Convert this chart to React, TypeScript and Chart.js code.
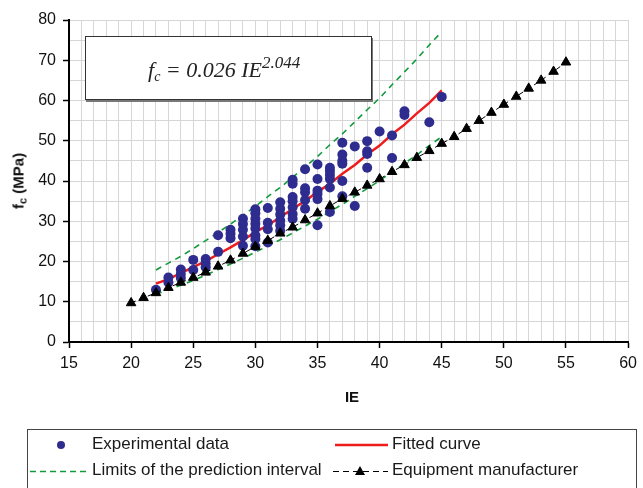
import React, { useEffect, useRef } from "react";
import { Chart, registerables } from "chart.js";
Chart.register(...registerables);

// Experimental data (IE, fc)
const expIE = [
  22,
  23, 23,
  24, 24, 24,
  25, 25,
  26, 26, 26,
  27, 27,
  28, 28, 28,
  29, 29, 29, 29, 29,
  30, 30, 30, 30, 30, 30, 30, 30,
  31, 31, 31, 31,
  32, 32, 32, 32, 32, 32,
  33, 33, 33, 33, 33, 33, 33,
  34, 34, 34, 34, 34,
  35, 35, 35, 35, 35, 35,
  36, 36, 36, 36, 36, 36,
  37, 37, 37, 37, 37, 37,
  38, 38,
  39, 39, 39, 39,
  40,
  41, 41,
  42, 42,
  44,
  45,
];
const expFc = [
  13.0,
  14.8, 16.0,
  18.0, 16.9, 15.9,
  20.4, 17.9,
  20.6, 19.5, 18.6,
  26.5, 22.4,
  27.9, 26.9, 25.8,
  30.6, 29.3, 27.9, 26.2, 23.9,
  33.0, 32.0, 30.6, 29.4, 28.2, 26.5, 25.6, 23.8,
  33.3, 29.6, 28.0, 24.7,
  34.7, 33.1, 31.7, 30.2, 29.0, 27.6,
  40.3, 39.3, 36.0, 35.0, 33.5, 31.8, 30.6,
  42.9, 38.2, 37.2, 35.3, 33.1,
  44.1, 40.5, 37.6, 36.8, 35.5, 29.0,
  43.3, 42.5, 41.5, 40.5, 38.4, 32.3,
  49.5, 46.6, 45.0, 44.3, 40.0, 36.2,
  48.6, 33.8,
  49.9, 47.4, 46.7, 43.3,
  52.3,
  51.3, 45.7,
  57.3, 56.4,
  54.6,
  60.9,
];

// Fitted curve and prediction limits
const fitIE = [22, 23, 24, 25, 26, 27, 28, 29, 30, 31, 32, 33, 34, 35, 36, 37, 38, 39, 40, 41, 42, 43, 44, 45];
const fitFc = [14.5, 15.6, 17.1, 18.6, 20.1, 21.8, 23.5, 25.3, 27.3, 29.0, 31.0, 33.1, 35.0, 37.3, 39.3, 41.8, 44.0, 46.6, 48.8, 51.6, 54.0, 56.8, 59.4, 62.5];
const upperFc = [17.9, 19.6, 21.3, 23.2, 25.2, 27.2, 29.3, 31.5, 33.7, 36.1, 38.4, 40.9, 43.5, 46.1, 49.0, 51.7, 54.7, 57.7, 60.6, 63.9, 67.1, 70.3, 73.8, 77.1];
const lowerFc = [11.8, 13.0, 14.1, 15.3, 16.6, 18.0, 19.4, 20.8, 22.3, 23.9, 25.4, 27.1, 28.8, 30.5, 32.4, 34.2, 36.2, 38.1, 40.1, 42.2, 44.4, 46.5, 48.8, 51.0];

// Equipment manufacturer
const mfrIE = [20, 21, 22, 23, 24, 25, 26, 27, 28, 29, 30, 31, 32, 33, 34, 35, 36, 37, 38, 39, 40, 41, 42, 43, 44, 45, 46, 47, 48, 49, 50, 51, 52, 53, 54, 55];
const mfrFc = [9.7, 11.0, 12.2, 13.5, 14.8, 16.0, 17.3, 18.8, 20.3, 22.0, 23.7, 25.2, 27.0, 28.5, 30.3, 32.0, 33.8, 35.6, 37.2, 38.9, 40.5, 42.3, 44.0, 45.8, 47.5, 49.3, 51.0, 53.0, 55.0, 57.0, 59.0, 61.0, 63.0, 65.0, 67.2, 69.5];

// Axes
const xTickLabels = [15, 20, 25, 30, 35, 40, 45, 50, 55, 60];
const yTickLabels = [0, 10, 20, 30, 40, 50, 60, 70, 80];
const xGridStep = 1;
const yGridStep = 5;

const pts = (xs: number[], ys: number[]) => xs.map((x, i) => ({ x, y: ys[i] }));

const W = 643;
const H = 488;
const FONT = "'Liberation Sans', Arial, sans-serif";
const PLOT_TOP = 20;
const PLOT_BOTTOM = 342;
const PLOT_LEFT = 69;
const BOTTOM_PAD = 80;

export default function App() {
  const ref = useRef<HTMLCanvasElement | null>(null);

  useEffect(() => {
    if (!ref.current) return;
    const xMin = xTickLabels[0];
    const xMax = xTickLabels[xTickLabels.length - 1];
    const yMin = yTickLabels[0];
    const yMax = yTickLabels[yTickLabels.length - 1];
    const green = "#129a3c";

    const chart = new Chart(ref.current, {
      type: "scatter",
      data: {
        datasets: [
          {
            label: "Equipment manufacturer",
            data: pts(mfrIE, mfrFc),
            showLine: true,
            borderColor: "#000",
            borderWidth: 1,
            borderDash: [5, 4],
            pointStyle: "triangle",
            pointRadius: 5.5,
            backgroundColor: "#000",
            pointBorderColor: "#000",
            pointBorderWidth: 1,
          },
          {
            label: "Experimental data",
            data: pts(expIE, expFc),
            showLine: false,
            pointStyle: "circle",
            pointRadius: 5,
            backgroundColor: "#2e2c8e",
            pointBorderColor: "#2e2c8e",
            pointBorderWidth: 0,
          },
          {
            label: "Fitted curve",
            data: pts(fitIE, fitFc),
            showLine: true,
            borderColor: "#ee1c1c",
            borderWidth: 2.5,
            pointRadius: 0,
          },
          {
            label: "Upper limit",
            data: pts(fitIE, upperFc),
            showLine: true,
            borderColor: green,
            borderWidth: 1.6,
            borderDash: [6, 5],
            pointRadius: 0,
          },
          {
            label: "Lower limit",
            data: pts(fitIE, lowerFc),
            showLine: true,
            borderColor: green,
            borderWidth: 1.6,
            borderDash: [6, 5],
            pointRadius: 0,
          },
        ],
      },
      options: {
        responsive: false,
        animation: false,
        events: [],
        layout: { padding: { left: 0, right: 10, top: PLOT_TOP, bottom: BOTTOM_PAD } },
        plugins: { legend: { display: false }, tooltip: { enabled: false } },
        scales: {
          x: {
            type: "linear",
            min: xMin,
            max: xMax,
            afterBuildTicks: (s: any) => {
              const t = [];
              for (let v = xMin; v <= xMax; v += xGridStep) t.push({ value: v });
              s.ticks = t;
            },
            afterFit: (s: any) => {
              s.height = H - BOTTOM_PAD - PLOT_BOTTOM;
            },
            ticks: {
              autoSkip: false,
              maxRotation: 0,
              padding: 6,
              color: "#111",
              font: { family: FONT, size: 16 },
              callback: (v: any) => (xTickLabels.includes(Number(v)) ? String(v) : ""),
            },
            grid: {
              color: "#d6d6d6",
              lineWidth: 1,
              tickLength: 6,
              tickWidth: 1.5,
              tickColor: (c: any) =>
                c.tick && xTickLabels.includes(c.tick.value) ? "#000" : "rgba(0,0,0,0)",
            },
            border: { color: "#000", width: 2 },
          },
          y: {
            type: "linear",
            min: yMin,
            max: yMax,
            afterBuildTicks: (s: any) => {
              const t = [];
              for (let v = yMin; v <= yMax; v += yGridStep) t.push({ value: v });
              s.ticks = t;
            },
            afterFit: (s: any) => {
              s.width = PLOT_LEFT;
            },
            ticks: {
              autoSkip: false,
              padding: 7,
              color: "#111",
              font: { family: FONT, size: 16 },
              callback: (v: any) => (yTickLabels.includes(Number(v)) ? String(v) : ""),
            },
            grid: {
              color: "#d6d6d6",
              lineWidth: 1,
              tickLength: 6,
              tickWidth: 1.5,
              tickColor: (c: any) =>
                c.tick && yTickLabels.includes(c.tick.value) ? "#000" : "rgba(0,0,0,0)",
            },
            border: { color: "#000", width: 2 },
          },
        },
      },
    } as any);
    return () => chart.destroy();
  }, []);

  const textStyle: React.CSSProperties = {
    position: "absolute",
    fontFamily: FONT,
    fontSize: 17,
    color: "#1a1a1a",
    whiteSpace: "nowrap",
    lineHeight: "20px",
  };

  return (
    <div style={{ position: "absolute", left: 0, top: 0, width: W, height: H, background: "#fff", overflow: "hidden" }}>
      <canvas ref={ref} width={W} height={H} style={{ position: "absolute", left: 0, top: 0, width: W, height: H }} />

      {/* Formula box */}
      <div
        style={{
          position: "absolute",
          left: 85,
          top: 36,
          width: 287,
          height: 64,
          background: "#fff",
          border: "1px solid #333",
          boxShadow: "1px 2px 0 #777",
          boxSizing: "border-box",
        }}
      >
        <div
          style={{
            position: "absolute",
            left: 62,
            top: 11,
            fontFamily: "'Liberation Serif', 'DejaVu Serif', serif",
            fontStyle: "italic",
            fontSize: 22,
            color: "#222",
            whiteSpace: "nowrap",
            lineHeight: "30px",
          }}
        >
          f<sub style={{ fontSize: 14, verticalAlign: "-4px" }}>c</sub> = 0.026 IE
          <sup style={{ fontSize: 17, verticalAlign: "9px" }}>2.044</sup>
        </div>
      </div>

      {/* Y axis title */}
      <div
        style={{
          position: "absolute",
          left: 19,
          top: 181,
          transform: "translate(-50%, -50%) rotate(-90deg)",
          fontFamily: FONT,
          fontWeight: "bold",
          fontSize: 15,
          color: "#111",
          whiteSpace: "nowrap",
        }}
      >
        f<sub style={{ fontSize: 11, verticalAlign: "-3px" }}>c</sub> (MPa)
      </div>

      {/* X axis title */}
      <div
        style={{
          position: "absolute",
          left: 352,
          top: 396,
          transform: "translate(-50%, -50%)",
          fontFamily: FONT,
          fontWeight: "bold",
          fontSize: 15,
          color: "#111",
        }}
      >
        IE
      </div>

      {/* Legend */}
      <div
        style={{
          position: "absolute",
          left: 27,
          top: 429,
          width: 610,
          height: 70,
          border: "1px solid #444",
          boxSizing: "border-box",
        }}
      />
      <svg width={W} height={H} style={{ position: "absolute", left: 0, top: 0, pointerEvents: "none" }}>
        <circle cx={61} cy={445} r={4} fill="#2e2c8e" />
        <line x1={335} y1={445} x2={388} y2={445} stroke="#ee1c1c" strokeWidth={2.5} />
        <line x1={30} y1={471.5} x2={89} y2={471.5} stroke="#129a3c" strokeWidth={1.4} strokeDasharray="6 4" />
        <line x1={333} y1={471.5} x2={388} y2={471.5} stroke="#000" strokeWidth={1} strokeDasharray="6 4" />
        <polygon points="360,466 355,475 365,475" fill="#000" />
      </svg>
      <div style={{ ...textStyle, left: 92, top: 434 }}>Experimental data</div>
      <div style={{ ...textStyle, left: 392, top: 434 }}>Fitted curve</div>
      <div style={{ ...textStyle, left: 92, top: 460 }}>Limits of the prediction interval</div>
      <div style={{ ...textStyle, left: 392, top: 460 }}>Equipment manufacturer</div>
    </div>
  );
}
